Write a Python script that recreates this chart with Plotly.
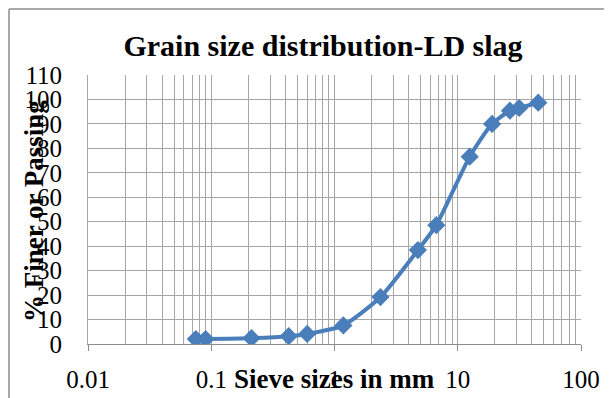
import plotly.graph_objects as go

sieve_mm = [0.075, 0.09, 0.212, 0.425, 0.6, 1.18, 2.36, 4.75, 6.7, 12.5, 19, 26.5, 31.5, 45]
passing = [2.0, 2.0, 2.4, 3.2, 4.1, 7.6, 19.2, 38.4, 48.6, 76.6, 90.0, 95.4, 96.5, 98.7]

major_x = [0.01, 0.1, 1, 10, 100]
major_x_labels = ["0.01", "0.1", "1", "10", "100"]
minor_x = [m * d for d in [0.01, 0.1, 1, 10] for m in range(2, 10)]
y_ticks = list(range(0, 111, 10))

blue = "#4a7ebb"
grid = "#a6a6a6"
font_family = "Liberation Serif, Times New Roman, serif"

# page body has an 8px margin, so figure coordinates = target pixel - 8
OFF = 8
W, H = 612 - OFF, 398 - OFF
L, T = 88 - OFF, 75 - OFF
pw, ph = 493, 269
R, B = W - L - pw, H - T - ph

def px(x):
    return (x - OFF - L) / pw

def py(y):
    return (T + ph - (y - OFF)) / ph

fig = go.Figure()
fig.add_trace(go.Scatter(
    x=sieve_mm, y=passing, mode="lines+markers",
    line=dict(color=blue, width=4, shape="spline", smoothing=0.6),
    marker=dict(symbol="diamond", size=14, color=blue),
    showlegend=False,
))

fig.update_layout(
    width=W, height=H,
    margin=dict(l=L, r=R, t=T, b=B, autoexpand=False),
    paper_bgcolor="white", plot_bgcolor="white",
    font=dict(family=font_family, color="black", size=25),
    title=dict(text="<b>Grain size distribution-LD slag</b>",
               font=dict(size=30, family=font_family, color="black"),
               xref="container", x=(323 - OFF) / W, xanchor="center",
               yref="container", y=1 - (45 - OFF) / H, yanchor="middle"),
    xaxis=dict(type="log", range=[-2, 2], automargin=False,
               tickmode="array", tickvals=major_x, ticktext=major_x_labels,
               showgrid=True, gridcolor=grid, gridwidth=1,
               minor=dict(tickvals=minor_x, showgrid=True, gridcolor=grid, gridwidth=1),
               showline=True, linecolor="#8c8c8c", linewidth=1,
               ticks="outside", ticklen=6, tickcolor="#8c8c8c",
               ticklabelstandoff=7,
               tickfont=dict(size=25),
               zeroline=False),
    yaxis=dict(range=[0, 110], tickmode="array", tickvals=y_ticks, automargin=False,
               showgrid=True, gridcolor=grid, gridwidth=1,
               showline=True, linecolor=grid, linewidth=1,
               ticks="", ticklabelstandoff=20,
               tickfont=dict(size=25), zeroline=False),
    annotations=[
        dict(text="<b>Sieve sizes in mm</b>", xref="paper", yref="paper",
             x=px(334), y=py(379), xanchor="center", yanchor="middle",
             showarrow=False, font=dict(size=27, family=font_family)),
        dict(text="<b>% Finer or Passing</b>", xref="paper", yref="paper",
             x=px(34), y=py(211), xanchor="center", yanchor="middle",
             textangle=-90, showarrow=False, font=dict(size=27, family=font_family)),
    ],
    shapes=[
        dict(type="line", xref="paper", yref="paper", x0=px(9), x1=px(9), y0=py(9), y1=py(400),
             line=dict(color="#8c8c8c", width=1.5)),
        dict(type="line", xref="paper", yref="paper", x0=px(9), x1=px(615), y0=py(9), y1=py(9),
             line=dict(color="#8c8c8c", width=1.5)),
    ],
)

fig.write_html("out.html")
